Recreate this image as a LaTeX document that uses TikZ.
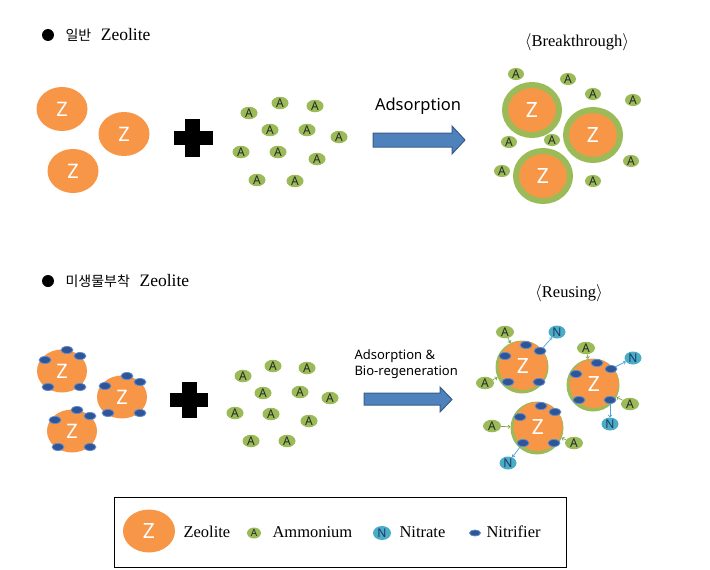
\documentclass[tikz,border=0pt]{standalone}
\usepackage{fontspec}
\setmainfont{Liberation Serif}
\newfontfamily\krfont[Scale=0.8]{Noto Sans CJK KR}
\newfontfamily\labelsans{Noto Sans}
\usetikzlibrary{shapes.geometric, arrows.meta}
\definecolor{zorange}{HTML}{F79646}
\definecolor{agreen}{HTML}{9BBB59}
\definecolor{ncyan}{HTML}{4BACC6}
\definecolor{nblue}{HTML}{2F5597}
\definecolor{nrim}{HTML}{5B8BD0}
\definecolor{ntext}{HTML}{1F3864}
\definecolor{arrowblue}{HTML}{4F81BD}
\definecolor{arrowrim}{HTML}{385D8A}
\definecolor{flowblue}{HTML}{4BA3D6}

\begin{document}
\begin{tikzpicture}[x=1pt, y=-1pt,
    zeo/.style={ellipse, fill=zorange, minimum width=51pt, minimum height=44pt, inner sep=0pt, text=white, font=\labelsans\fontsize{20}{20}\selectfont},
    btz/.style={ellipse, fill=zorange, draw=agreen, line width=6pt, minimum width=54pt, minimum height=50pt, inner sep=0pt, text=white, font=\labelsans\fontsize{21}{21}\selectfont},
    rsring/.style={circle, fill=agreen, minimum size=53pt, inner sep=0pt},
    rscore/.style={circle, fill=zorange, minimum size=49pt, inner sep=0pt, text=white, font=\labelsans\fontsize{21}{21}\selectfont},
    amm/.style={ellipse, fill=agreen, minimum width=17pt, minimum height=12.5pt, inner sep=0pt, text=black!85, font=\labelsans\fontsize{12}{12}\selectfont},
    ntr/.style={ellipse, fill=ncyan, minimum width=17pt, minimum height=13pt, inner sep=0pt, text=ntext, font=\labelsans\fontsize{12}{12}\selectfont},
    nit/.style={ellipse, fill=nblue, draw=nrim, line width=0.8pt, minimum width=12pt, minimum height=7pt, inner sep=0pt},
    bullet/.style={circle, fill=black, minimum size=12pt, inner sep=0pt},
    bigarrow/.style={fill=arrowblue, draw=arrowrim, line width=1pt},
    legendtext/.style={anchor=west, font=\fontsize{16.5}{19}\selectfont},
    ammflow/.style={draw=agreen!85!black, line width=0.7pt, -{To[length=2.5pt, width=4pt]}},
    nitflow/.style={draw=flowblue, line width=0.7pt, -{To[length=2.5pt, width=4pt]}}]
    \useasboundingbox (0, 0) rectangle (710, 570);

    % general zeolite
    \node[bullet] (dot1) at (48, 35) {};
    \node[anchor=west, font=\fontsize{17.5}{20}\selectfont] (head1) at (62, 35) {{\krfont 일반}\hspace{0.55em}Zeolite};

    \node[zeo] (z1) at (62, 109) {Z};
    \node[zeo] (z2) at (124, 134) {Z};
    \node[zeo] (z3) at (73, 171) {Z};

    \fill (174, 131) rectangle (213, 145);
    \fill (185, 119) rectangle (200, 157);

    \foreach \x/\y [count=\k] in {249/113, 280/103, 315/106, 270/130, 307/130, 339/137, 241/152, 278/152, 317/159, 257/180, 295/181}
        \node[amm] (a\k) at (\x, \y) {A};

    \node[font=\labelsans\fontsize{16.5}{20}\selectfont] (ads1) at (418, 106) {Adsorption};
    \filldraw[bigarrow] (373, 133) -- (452, 133) -- (452, 126) -- (465, 140) -- (452, 154) -- (452, 147) -- (373, 147) -- cycle;

    \node[font=\fontsize{16.5}{19}\selectfont] (bt) at (577, 42) {$\langle$Breakthrough$\rangle$};
    \node[btz] (bz1) at (532, 110) {Z};
    \node[btz] (bz2) at (593, 135) {Z};
    \node[btz] (bz3) at (543, 176) {Z};
    \foreach \x/\y [count=\k] in {516/74, 568/79, 593/94, 633/100, 509/142, 552/140, 631/161, 502/171, 593/181}
        \node[amm, minimum width=16pt, minimum height=12pt] (ba\k) at (\x, \y) {A};

    % zeolite with nitrifiers
    \node[bullet] (dot2) at (48, 281) {};
    \node[anchor=west, font=\fontsize{17.5}{20}\selectfont] (head2) at (62, 281) {{\krfont 미생물부착}\hspace{0.55em}Zeolite};

    \foreach \c/\x/\y in {1/62/371, 2/122/397, 3/72/431} {
        \node[zeo, minimum width=50pt, minimum height=43pt] (mz\c) at (\x, \y) {Z};
        \foreach \dx/\dy [count=\k] in {5/-21, -17/-11, 18/-15, -14/16, 18/16}
            \node[nit] (mz\c-n\k) at ([shift={(\dx, \dy)}]mz\c) {};
    }

    \fill (170, 393) rectangle (208, 407);
    \fill (182, 382) rectangle (197, 418);

    \foreach \x/\y [count=\k] in {243/376, 273/366, 307/368, 263/393, 300/392, 330/398, 235/413, 271/414, 309/421, 251/441, 287/441}
        \node[amm] (ma\k) at (\x, \y) {A};

    \node[anchor=west, align=left, font=\labelsans\fontsize{13}{16}\selectfont] (ads2) at (351, 364) {Adsorption \&\\Bio-regeneration};
    \filldraw[bigarrow] (364, 393) -- (440, 393) -- (440, 387) -- (452, 399.5) -- (440, 412) -- (440, 405) -- (364, 405) -- cycle;

    \node[font=\fontsize{16.5}{19}\selectfont] (rs) at (569, 293) {$\langle$Reusing$\rangle$};
    \foreach \c/\x/\y in {1/522/367, 2/593/385, 3/537/428} {
        \node[rsring] (rz\c) at (\x, \y) {};
        \node[rscore] (rc\c) at ([shift={(1, -1.5)}]rz\c) {Z};
        \foreach \dx/\dy [count=\k] in {4/-22, -17/-11, 18/-16, -14/15, 17/15}
            \node[nit] (rz\c-n\k) at ([shift={(\dx, \dy)}]rz\c) {};
    }

    \node[amm, minimum width=18pt] (ra1) at (505, 332) {A};
    \node[amm, minimum width=18pt] (ra2) at (485, 383) {A};
    \node[amm, minimum width=18pt] (ra3) at (586, 348) {A};
    \node[amm, minimum width=18pt] (ra4) at (630, 404) {A};
    \node[amm, minimum width=18pt] (ra5) at (492, 426) {A};
    \node[amm, minimum width=18pt] (ra6) at (574, 443) {A};
    \node[ntr] (rn1) at (557, 332) {N};
    \node[ntr] (rn2) at (633, 358) {N};
    \node[ntr] (rn3) at (610, 424) {N};
    \node[ntr] (rn4) at (508, 463) {N};

    \draw[ammflow] (ra1) -- (rz1);
    \draw[ammflow] (ra2) -- (rz1);
    \draw[ammflow] (ra3) -- (rz2);
    \draw[ammflow] (ra4) -- (rz2);
    \draw[ammflow] (ra5) -- (rz3);
    \draw[ammflow] (ra6) -- (rz3);
    \draw[nitflow] (rz1-n3) -- (rn1);
    \draw[nitflow] (rz2-n3) -- (rn2);
    \draw[nitflow] (rz2-n5) -- (rn3);
    \draw[nitflow] (rz3-n4) -- (rn4);

    % legend
    \node[draw, line width=1pt, minimum width=452pt, minimum height=70pt] (legend) at (340, 532) {};
    \node[zeo, minimum width=52pt, minimum height=43pt, font=\labelsans\fontsize{21}{21}\selectfont] (lz) at (149, 531) {Z};
    \node[legendtext] (lzt) at (180, 532) {Zeolite};
    \node[amm, minimum width=14pt, minimum height=11pt, font=\labelsans\fontsize{10}{10}\selectfont] (la) at (254, 533) {A};
    \node[legendtext] (lat) at (269, 532) {Ammonium};
    \node[ntr, minimum width=18pt, minimum height=14pt] (ln) at (382, 533) {N};
    \node[legendtext] (lnt) at (396, 532) {Nitrate};
    \node[nit, minimum width=11pt, minimum height=6pt] (lf) at (475, 533) {};
    \node[legendtext] (lft) at (483, 532) {Nitrifier};
\end{tikzpicture}
\end{document}
